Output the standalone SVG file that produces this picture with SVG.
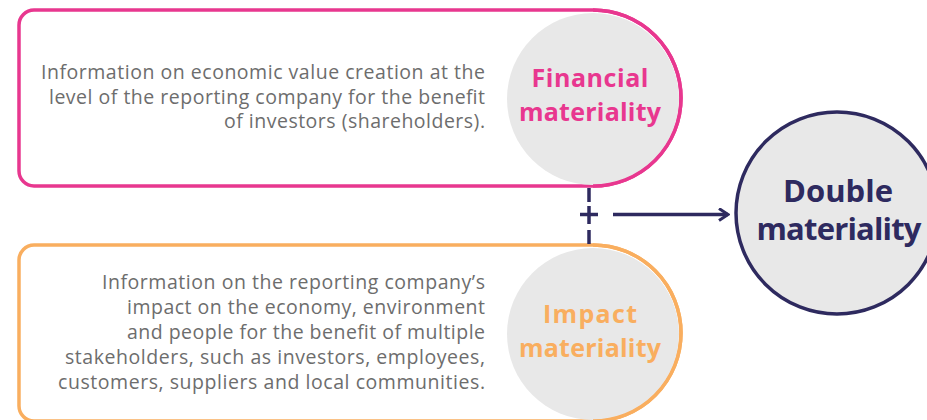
<svg xmlns="http://www.w3.org/2000/svg" width="927" height="420" viewBox="0 0 927 420">
<defs>
<style>
.body{font-family:"Open Sans","Liberation Sans",sans-serif;font-size:19.5px;fill:#6d6d6d;text-anchor:end}
.title{font-family:"Open Sans","Liberation Sans",sans-serif;font-weight:bold;text-anchor:middle}
.gray{fill:#e8e8e8}
.nav{stroke:#2e2a5f;stroke-width:3.5;fill:none}
</style>
<marker id="chev" markerWidth="12" markerHeight="14" refX="10" refY="7" orient="auto" markerUnits="userSpaceOnUse">
<path d="M1,1 L10,7 L1,13" fill="none" stroke="#2e2a5f" stroke-width="3"/>
</marker>
</defs>
<rect width="927" height="420" fill="#ffffff"/>
<g id="financial">
<path d="M34,10 H593 A88 88 0 0 1 593,186 H34 A15 15 0 0 1 19,171 V25 A15 15 0 0 1 34,10 Z" fill="#ffffff" stroke="#e8378f" stroke-width="3.5"/>
<circle class="gray" cx="593" cy="99" r="86"/>
<path d="M593,10 A88 88 0 0 1 593,186" fill="none" stroke="#e8378f" stroke-width="3.5"/>
<text class="body" x="485" y="79" textLength="444" lengthAdjust="spacing">Information on economic value creation at the</text>
<text class="body" x="485" y="103.5" textLength="436" lengthAdjust="spacing">level of the reporting company for the benefit</text>
<text class="body" x="485" y="128" textLength="261" lengthAdjust="spacing">of investors (shareholders).</text>
<text class="title" x="590" y="87" font-size="25" fill="#e8378f" textLength="117" lengthAdjust="spacing">Financial</text>
<text class="title" x="590" y="121" font-size="25" fill="#e8378f" textLength="142" lengthAdjust="spacing">materiality</text>
</g>
<g id="impact">
<path d="M34,245 H593 A88 88 0 0 1 593,421 H34 A15 15 0 0 1 19,406 V260 A15 15 0 0 1 34,245 Z" fill="#ffffff" stroke="#f9ae5f" stroke-width="3.5"/>
<circle class="gray" cx="593" cy="334" r="86"/>
<path d="M593,245 A88 88 0 0 1 593,421" fill="none" stroke="#f9ae5f" stroke-width="3.5"/>
<text class="body" x="485" y="289" textLength="383" lengthAdjust="spacing">Information on the reporting company’s</text>
<text class="body" x="485" y="314" textLength="358" lengthAdjust="spacing">impact on the economy, environment</text>
<text class="body" x="485" y="339" textLength="358" lengthAdjust="spacing">and people for the benefit of multiple</text>
<text class="body" x="485" y="364" textLength="420" lengthAdjust="spacing">stakeholders, such as investors, employees,</text>
<text class="body" x="485" y="389" textLength="427" lengthAdjust="spacing">customers, suppliers and local communities.</text>
<text class="title" x="590" y="323" font-size="25" fill="#f9ae5f" textLength="94" lengthAdjust="spacing">Impact</text>
<text class="title" x="590" y="357" font-size="25" fill="#f9ae5f" textLength="142" lengthAdjust="spacing">materiality</text>
</g>
<g id="double">
<circle cx="837" cy="213" r="101" fill="#e8e8e8" stroke="#2e2a5f" stroke-width="3.5"/>
<text class="title" x="838" y="202" font-size="31" fill="#2e2a5f" textLength="110" lengthAdjust="spacing">Double</text>
<text class="title" x="839" y="240" font-size="31" fill="#2e2a5f" textLength="165" lengthAdjust="spacing">materiality</text>
</g>
<g id="connectors">
<line class="nav" x1="589" y1="188" x2="589" y2="202"/>
<line class="nav" x1="589" y1="206" x2="589" y2="224"/>
<line class="nav" x1="580" y1="214.5" x2="598" y2="214.5"/>
<line class="nav" x1="589" y1="230" x2="589" y2="244"/>
<line class="nav" x1="613" y1="214.5" x2="728" y2="214.5" marker-end="url(#chev)"/>
</g>
</svg>
